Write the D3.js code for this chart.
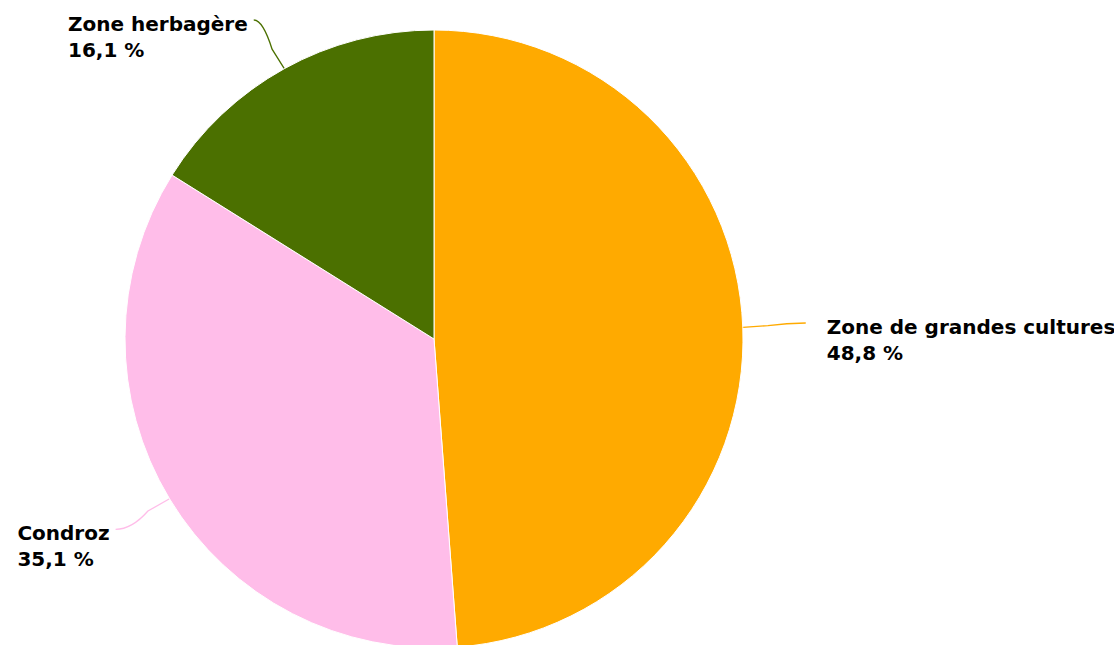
<!DOCTYPE html>
<html>
<head>
<meta charset="utf-8">
<script src="https://cdn.jsdelivr.net/npm/d3@7"></script>
<style>
  html, body { margin: 0; padding: 0; background: #fff; overflow: hidden; }
  .lbl { font-family: "DejaVu Sans", sans-serif; font-weight: bold; font-size: 20px; fill: #000; }
</style>
</head>
<body>
<svg id="chart" width="1114" height="645"></svg>
<script>
// data
var categories = ["Zone de grandes cultures", "Condroz", "Zone herbagère"];
var values = [48.8, 35.1, 16.1];
var colors = ["#FFAA00", "#FFBDE9", "#4B7000"];

var WIDTH = 1114, HEIGHT = 645;
var cx = 434, cy = 339, radius = 309;
var labelRadius = radius + 63;

var svg = d3.select("#chart");
var g = svg.append("g").attr("transform", "translate(" + cx + "," + cy + ")");

var pie = d3.pie().sort(null).value(function(d){ return d; });
var arcs = pie(values);
var arc = d3.arc().innerRadius(0).outerRadius(radius);

function fmt(v){
    return v.toFixed(1).replace(".", ",") + " %";
}

// connectors first so slices sit on top of their ends
arcs.forEach(function(a, i){
    var mid = (a.startAngle + a.endAngle) / 2;
    var ex = radius * Math.sin(mid), ey = -radius * Math.cos(mid);
    var right = ex > 0;
    // label point on the outer circle, kept inside the top of the picture
    var lx = labelRadius * Math.sin(mid);
    var ly = Math.max(-labelRadius * Math.cos(mid) - 2, 20 - cy);

    // leaves the label horizontally, bends smoothly toward the slice
    var ddx = ex - lx, ddy = ey - ly;
    var path = d3.path();
    path.moveTo(lx, ly);
    path.quadraticCurveTo(lx + ddx * 0.3, ly, lx + ddx * 0.6, ly + ddy * 0.6);
    path.lineTo(ex, ey);
    g.append("path")
        .attr("d", path.toString())
        .attr("fill", "none")
        .attr("stroke", colors[i])
        .attr("stroke-width", 1.3);

    var t = g.append("text").attr("class", "lbl");
    t.append("tspan").attr("x", 0).attr("y", 0).text(categories[i]);
    t.append("tspan").attr("x", 0).attr("y", 26).text(fmt(values[i]));
    var w = t.node().getBBox().width;
    var tx = right ? lx + 21 : lx - 6 - w;
    t.attr("transform", "translate(" + tx + "," + (ly + 11) + ")");
});

g.selectAll("path.slice")
    .data(arcs)
    .enter()
    .append("path")
    .attr("class", "slice")
    .attr("d", arc)
    .attr("fill", function(d, i){ return colors[i]; })
    .attr("stroke", "#ffffff")
    .attr("stroke-width", 1);
</script>
</body>
</html>
